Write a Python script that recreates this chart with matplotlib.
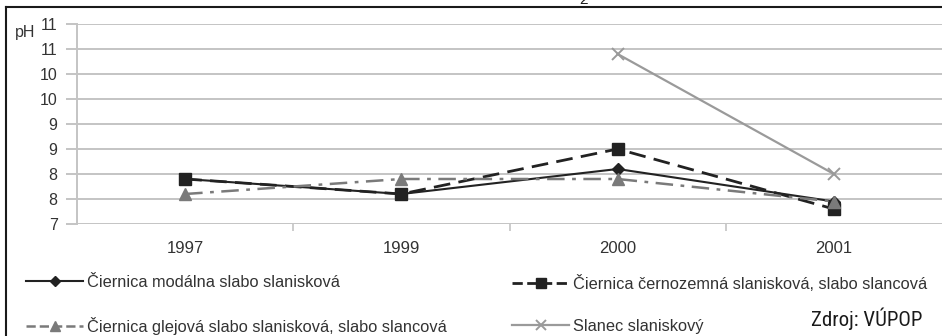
import matplotlib
matplotlib.use("Agg")
import matplotlib.pyplot as plt
from matplotlib.lines import Line2D
from matplotlib.ticker import FixedLocator, FuncFormatter

plt.rcParams["font.family"] = ["Liberation Sans", "DejaVu Sans"]

# pH values per soil type and year
years = ["1997", "1999", "2000", "2001"]
modalna = [7.9, 7.6, 8.1, 7.45]
cernozemna = [7.9, 7.6, 8.5, 7.3]
glejova = [7.6, 7.9, 7.9, 7.45]
slanec = [None, None, 10.4, 8.0]

labels = [
    "Čiernica modálna slabo slanisková",
    "Čiernica černozemná slanisková, slabo slancová",
    "Čiernica glejová slabo slanisková, slabo slancová",
    "Slanec slaniskový",
]

fig = plt.figure(figsize=(9.42, 3.36), dpi=100)
ax = fig.add_axes([77 / 942, 1 - 224 / 336, 1 - 77 / 942, 200 / 336])

x = list(range(len(years)))

def pts(vals):
    xs = [i for i, v in zip(x, vals) if v is not None]
    ys = [v for v in vals if v is not None]
    return xs, ys

l_mo, = ax.plot(x, modalna, color="#222222", lw=1.5, marker="D",
                ms=6, zorder=3)
l_ce, = ax.plot(x, cernozemna, color="#222222", lw=2.0, ls=(0, (6, 3)),
                marker="s", ms=8.5, zorder=4)
l_gl, = ax.plot(x, glejova, color="#7a7a7a", lw=1.8, ls=(0, (7, 3, 1.5, 3)),
                marker="^", ms=9, zorder=5)
l_sl, = ax.plot(*pts(slanec), color="#9a9a9a", lw=1.6, marker="x",
                ms=9, mew=1.4, zorder=6)

ax.set_xlim(-0.5, 3.5)
ax.set_ylim(7, 11)

# y ticks every 0.5, labels rounded half up to whole numbers
yticks = [7 + 0.5 * i for i in range(9)]
ax.yaxis.set_major_locator(FixedLocator(yticks))
ax.yaxis.set_major_formatter(FuncFormatter(lambda v, p: str(int(v + 0.5))))
ax.grid(axis="y", color="#c4c4c4", lw=1.4)
ax.set_axisbelow(True)

ax.set_xticks(x)
ax.set_xticklabels(years)
ax.xaxis.set_minor_locator(FixedLocator([0.5, 1.5, 2.5]))
ax.tick_params(axis="x", which="major", length=0, pad=12, labelsize=12,
               labelcolor="#333333")
ax.tick_params(axis="x", which="minor", length=5, color="#c4c4c4", width=1.2)
ax.tick_params(axis="y", length=8, color="#c4c4c4", width=1.4, pad=6,
               labelsize=11.5, labelcolor="#333333")

for s in ["top", "right"]:
    ax.spines[s].set_visible(False)
ax.spines["bottom"].set_visible(False)
ax.spines["left"].set_color("#c4c4c4")
ax.spines["left"].set_linewidth(1.4)

fig.text(15 / 942, 1 - 33 / 336, "pH", fontsize=11.5, color="#333333",
         va="center", ha="left")

def handle(line):
    return Line2D([], [], color=line.get_color(), lw=line.get_linewidth(),
                  ls=line.get_linestyle(), marker=line.get_marker(),
                  ms=line.get_markersize() * 0.8, mew=line.get_markeredgewidth())

leg_kw = dict(frameon=False, fontsize=11.8, handlelength=3.5, handletextpad=0.25,
              labelspacing=1.65, borderpad=0, borderaxespad=0,
              labelcolor="#333333")
leg1 = fig.legend([handle(l_mo), handle(l_gl)], [labels[0], labels[2]],
                  loc="upper left", bbox_to_anchor=(26 / 942, 1 - 275 / 336),
                  **leg_kw)
leg2 = fig.legend([handle(l_ce), handle(l_sl)], [labels[1], labels[3]],
                  loc="upper left", bbox_to_anchor=(512 / 942, 1 - 275 / 336),
                  **leg_kw)

fig.text(867 / 942, 1 - 319 / 336, "Zdroj: VÚPOP", fontsize=15,
         family=["Liberation Sans Narrow", "Roboto Condensed", "Liberation Sans"],
         color="#1a1a1a", ha="center", va="center")

# frame lines along the top and left edges, plus cut-off title glyph
fig.add_artist(Line2D([6 / 942, 6 / 942], [0, 1 - 7 / 336],
                      transform=fig.transFigure, color="#1a1a1a", lw=1.5))
fig.add_artist(Line2D([6 / 942, 1], [1 - 7 / 336, 1 - 7 / 336],
                      transform=fig.transFigure, color="#1a1a1a", lw=1.5))
fig.text(583 / 942, 1 - 4 / 336, "2", fontsize=11, color="#1a1a1a",
         ha="center", va="baseline")

fig.savefig("out.png", dpi=100, facecolor="white")
